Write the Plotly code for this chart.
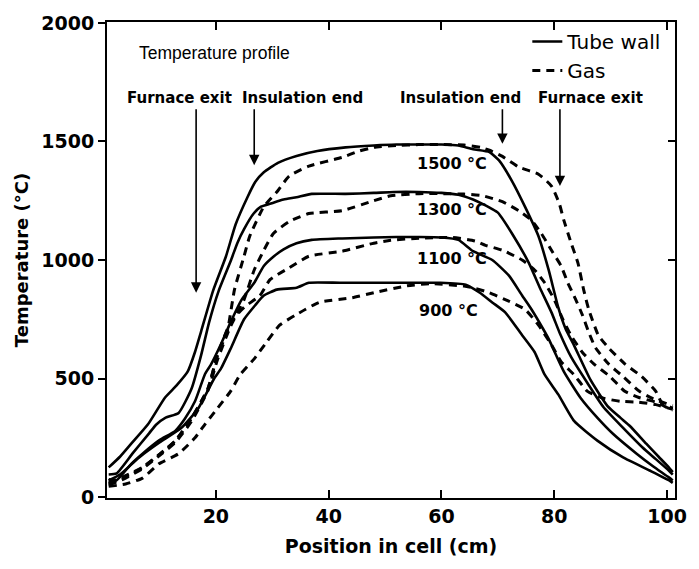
import plotly.graph_objects as go

# ---------------- data ----------------
wall_1500_x = [1, 3, 5, 8, 11, 13, 15, 16.3, 17.4, 19.5, 21.8, 23.5, 25.6, 27, 28.5, 31, 34.3, 38, 43, 48, 52, 56, 60, 63,
               65.6, 68.5, 70.2, 72.5, 74.8, 77.2, 79, 80.7, 82, 83.5, 86.4, 89.4, 91.7, 93.4, 96.3, 98.5, 100.3, 101]
wall_1500_y = [125, 170, 225, 308, 420, 470, 529, 612, 700, 870, 1016, 1150, 1265, 1330, 1370, 1410, 1439, 1460, 1475, 1483,
               1487, 1487, 1487, 1483, 1467, 1455, 1420, 1333, 1225, 1100, 958, 800, 710, 640, 495, 385, 335, 300, 225, 170, 125, 105]

wall_1300_x = [1, 2.4, 5.2, 8.2, 9.4, 11.1, 13.4, 15.7, 17.4, 18.8, 20.5, 22.7, 23.8, 25, 26.7, 28, 29.6, 32, 34.3, 37, 43,
               48, 51.6, 56, 60, 63, 65.6, 67, 69, 70, 72.5, 75.5, 77.5, 79.5, 81, 83, 85.9, 88.7, 92.2, 95.7, 98, 100.3, 101]
wall_1300_y = [95, 100, 183, 270, 305, 335, 355, 458, 600, 737, 870, 1000, 1071, 1130, 1196, 1225, 1237, 1255, 1265, 1279, 1279,
               1283, 1287, 1287, 1283, 1275, 1255, 1240, 1215, 1200, 1112, 987, 880, 779, 690, 590, 480, 380, 292, 208, 160, 112, 95]

wall_1100_x = [1, 2.4, 5, 7, 10, 12.8, 14.5, 16.3, 18.1, 19.1, 21, 22.6, 24.5, 26.8, 28.5, 30.3, 32, 34.3, 37, 42.4, 48, 52,
               56, 60, 63, 65.6, 69, 72, 74.3, 76, 78, 79, 81.7, 84.7, 87.7, 90.4, 94.6, 97.5, 100.3, 101]
wall_1100_y = [75, 71, 140, 183, 240, 279, 330, 404, 520, 558, 650, 737, 830, 904, 975, 1016, 1045, 1071, 1085, 1091, 1095, 1097,
               1097, 1095, 1085, 1037, 1000, 933, 850, 790, 710, 667, 529, 417, 333, 267, 183, 130, 83, 70]

wall_900_x = [1, 3, 6.4, 10, 13.9, 16.9, 19.7, 20.9, 22.6, 25, 27, 28.5, 30.8, 34.3, 36.5, 42, 48, 54, 59.8, 64.3, 66.8, 69,
              71.3, 74.3, 76.5, 78.3, 80.7, 83.5, 87.7, 92.2, 96.9, 100.3, 101]
wall_900_y = [70, 95, 167, 230, 292, 375, 500, 542, 625, 750, 810, 850, 875, 883, 904, 904, 904, 904, 904, 896, 862, 821,
              779, 683, 612, 516, 433, 321, 237, 167, 112, 71, 60]

gas_1500_x = [1, 4, 7, 10, 12.8, 15.7, 18.6, 20.3, 22, 23.3, 25, 26, 28.5, 30.8, 33, 36.5, 42.4, 45.2, 48, 52, 56, 60, 64, 67,
              68.5, 70.8, 73.7, 77.2, 79.5, 80.9, 81.7, 83, 84.2, 85.2, 86.1, 87.8, 89.6, 92.5, 95.5, 98, 99, 101]
gas_1500_y = [60, 90, 125, 180, 237, 333, 458, 600, 696, 875, 1016, 1100, 1225, 1287, 1354, 1396, 1433, 1458, 1475, 1483, 1487,
              1487, 1485, 1475, 1463, 1437, 1392, 1362, 1312, 1237, 1167, 1071, 987, 875, 792, 683, 630, 562, 508, 446, 400, 375]

gas_1300_x = [1, 4, 7, 10, 12.8, 15.7, 18.6, 20.3, 22.6, 25, 26.8, 28.5, 30.2, 33, 36.5, 42.4, 48, 51, 56, 60, 64, 67.3, 70.8,
              73.7, 76, 77.7, 79.5, 81.2, 82.4, 83.8, 85, 86.1, 87.3, 89.6, 92.2, 95.1, 97.5, 101]
gas_1300_y = [50, 80, 120, 175, 230, 320, 450, 580, 720, 833, 958, 1041, 1112, 1162, 1196, 1208, 1250, 1271, 1280, 1280, 1278,
              1271, 1246, 1208, 1167, 1112, 1041, 975, 904, 833, 767, 696, 630, 562, 508, 446, 415, 385]

gas_1100_x = [1, 4, 7, 10, 12.8, 15.7, 18.6, 20.3, 22.6, 25, 27.8, 29.6, 33, 36.5, 42.4, 48, 51, 56, 62, 66, 67.8, 70.8, 74.3,
              76.5, 78.3, 80, 81.5, 83, 85, 87, 89.9, 92.5, 95, 98, 101]
gas_1100_y = [55, 85, 125, 180, 237, 333, 458, 600, 737, 800, 850, 917, 967, 1016, 1037, 1071, 1083, 1092, 1095, 1080, 1062,
              1041, 1000, 958, 904, 833, 750, 680, 610, 562, 508, 446, 420, 400, 365]

gas_900_x = [1, 4, 7, 9.9, 13.4, 16.3, 18.1, 20.3, 22.6, 24.3, 26.8, 29, 31.3, 34.3, 38.3, 44.2, 48, 53.9, 58, 64, 66, 68.5,
             71.3, 74.8, 77.2, 79.5, 81.2, 83.5, 85.9, 88.7, 91.7, 95, 98, 101]
gas_900_y = [45, 55, 80, 140, 183, 250, 308, 375, 446, 516, 583, 654, 725, 770, 821, 841, 862, 891, 900, 890, 880, 862,
             833, 792, 725, 642, 571, 516, 446, 417, 404, 400, 390, 370]

x_ticks = [20, 40, 60, 80, 100]
y_ticks = [0, 500, 1000, 1500, 2000]
y_ticks_right = [500, 1000, 1500]

temp_labels = ["1500 °C", "1300 °C", "1100 °C", "900 °C"]
temp_label_x = [61.8, 61.8, 61.8, 61.3]
temp_label_y = [1405, 1212, 1005, 785]

marker_labels = ["Furnace exit", "Insulation end", "Insulation end", "Furnace exit"]
marker_label_x = [13.6, 35.3, 63.3, 86.5]
marker_label_y = 1683
arrow_x = [16.5, 26.8, 70.8, 81.0]
arrow_tip_y = [862, 1400, 1490, 1312]
arrow_tail_y = 1642

# ---------------- figure ----------------
fig = go.Figure()

walls = [(wall_1500_x, wall_1500_y), (wall_1300_x, wall_1300_y), (wall_1100_x, wall_1100_y), (wall_900_x, wall_900_y)]
gases = [(gas_1500_x, gas_1500_y), (gas_1300_x, gas_1300_y), (gas_1100_x, gas_1100_y), (gas_900_x, gas_900_y)]

for i, (xs, ys) in enumerate(walls):
    fig.add_trace(go.Scatter(x=xs, y=ys, mode="lines", name="Tube wall", showlegend=(i == 0),
                             line=dict(color="black", width=2.6, shape="spline", smoothing=0.5)))
for i, (xs, ys) in enumerate(gases):
    fig.add_trace(go.Scatter(x=xs, y=ys, mode="lines", name="Gas", showlegend=(i == 0),
                             yaxis=("y2" if i == len(gases) - 1 else "y"),
                             line=dict(color="black", width=3, dash="8px,6px", shape="spline", smoothing=0.5)))

bold_font = dict(family="DejaVu Sans", weight="bold", color="black")

annotations = []
annotations.append(dict(x=19.7, y=1875, xref="x", yref="y", text="Temperature profile", showarrow=False,
                        font=dict(family="Liberation Sans", size=17.5, color="black")))
for t, xx in zip(marker_labels, marker_label_x):
    annotations.append(dict(x=xx, y=marker_label_y, xref="x", yref="y", text=t, showarrow=False,
                            font=dict(size=15, **bold_font)))
for ax_, tip in zip(arrow_x, arrow_tip_y):
    annotations.append(dict(x=ax_, y=tip, ax=ax_, ay=arrow_tail_y, xref="x", yref="y", axref="x", ayref="y",
                            text="", showarrow=True, arrowhead=2, arrowsize=1.3, arrowwidth=1.6, arrowcolor="black"))
for t, xx, yy in zip(temp_labels, temp_label_x, temp_label_y):
    annotations.append(dict(x=xx, y=yy, xref="x", yref="y", text=t, showarrow=False,
                            font=dict(size=16, **bold_font)))

fig.update_layout(
    width=699, height=569,
    margin=dict(l=107, r=14, t=16, b=71),
    paper_bgcolor="white", plot_bgcolor="white",
    annotations=annotations,
    showlegend=True,
    legend=dict(x=0.74, y=1.0, xanchor="left", yanchor="top", bgcolor="rgba(0,0,0,0)",
                font=dict(family="DejaVu Sans", size=20, color="black"), itemwidth=30, tracegroupgap=0),
    xaxis=dict(range=[0.7, 101.4], tickvals=x_ticks, ticks="inside", ticklen=8, tickwidth=2, tickcolor="black",
               showline=True, linewidth=2, linecolor="black", mirror="ticks", showgrid=False, zeroline=False,
               tickfont=dict(size=19, **bold_font),
               title=dict(text="Position in cell (cm)", font=dict(size=19, **bold_font), standoff=14)),
    yaxis=dict(range=[-4, 2004], tickvals=y_ticks, ticks="outside", ticklen=7, tickwidth=2, tickcolor="black",
               showline=True, linewidth=2, linecolor="black", mirror=True, showgrid=False, zeroline=False,
               tickfont=dict(size=19, **bold_font),
               title=dict(text="Temperature (°C)", font=dict(size=18, **bold_font), standoff=8)),
    yaxis2=dict(overlaying="y", side="right", anchor="x", matches="y", tickvals=y_ticks_right, ticks="inside", ticklen=7,
                tickwidth=2, tickcolor="black", showticklabels=False, showline=False, showgrid=False, zeroline=False),
)

fig.write_html("out.html")
